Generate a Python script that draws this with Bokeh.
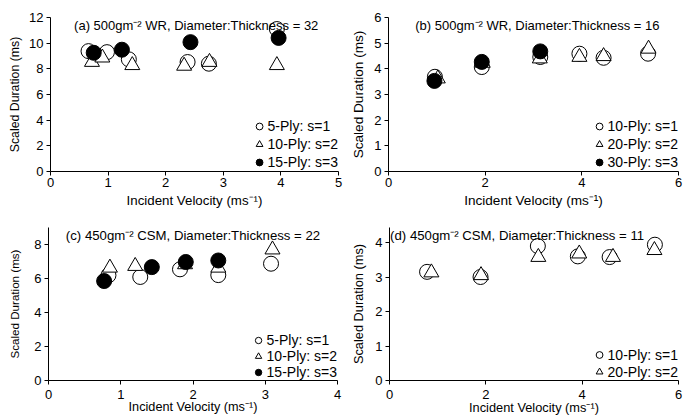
from bokeh.plotting import figure
from bokeh.layouts import column, row
from bokeh.models import Label, Legend, LegendItem, FixedTicker, Range1d
from bokeh.embed import file_html
from bokeh.resources import INLINE

# ---- data ----
# (a) 500gm-2 WR, D:T = 32
a_s1_x = [0.66, 0.98, 1.36, 2.38, 2.75, 3.93]
a_s1_y = [9.38, 9.30, 8.74, 8.53, 8.40, 11.10]
a_s2_x = [0.72, 0.90, 1.42, 2.32, 2.76, 3.93]
a_s2_y = [8.53, 8.87, 8.28, 8.23, 8.53, 8.28]
a_s3_x = [0.75, 1.24, 2.43, 3.96]
a_s3_y = [9.25, 9.49, 10.08, 10.41]
# (b) 500gm-2 WR, D:T = 16
b_s1_x = [0.96, 1.93, 3.14, 3.95, 4.45, 5.37]
b_s1_y = [3.69, 4.07, 4.46, 4.59, 4.43, 4.59]
b_s2_x = [1.02, 1.95, 3.13, 3.95, 4.45, 5.38]
b_s2_y = [3.62, 4.23, 4.40, 4.46, 4.49, 4.78]
b_s3_x = [0.95, 1.93, 3.14]
b_s3_y = [3.53, 4.27, 4.68]
# (c) 450gm-2 CSM, D:T = 22
c_s1_x = [0.83, 1.27, 1.82, 2.35, 3.08]
c_s1_y = [6.19, 6.09, 6.54, 6.20, 6.87]
c_s2_x = [0.85, 1.20, 1.89, 2.35, 3.10]
c_s2_y = [6.63, 6.73, 6.83, 6.63, 7.70]
c_s3_x = [0.77, 1.43, 1.90, 2.35]
c_s3_y = [5.85, 6.67, 6.97, 7.06]
# (d) 450gm-2 CSM, D:T = 11
d_s1_x = [0.78, 1.89, 3.08, 3.91, 4.57, 5.51]
d_s1_y = [3.16, 3.01, 3.91, 3.61, 3.59, 3.95]
d_s2_x = [0.87, 1.90, 3.09, 3.94, 4.64, 5.50]
d_s2_y = [3.14, 3.06, 3.59, 3.69, 3.59, 3.79]

titles = ["(a) 500gm\u207b\u00b2 WR, Diameter:Thickness = 32",
          "(b) 500gm\u207b\u00b2 WR, Diameter:Thickness = 16",
          "(c) 450gm\u207b\u00b2 CSM, Diameter:Thickness = 22",
          "(d) 450gm\u207b\u00b2 CSM, Diameter:Thickness = 11"]
legend_a = ["5-Ply: s=1", "10-Ply: s=2", "15-Ply: s=3"]
legend_b = ["10-Ply: s=1", "20-Ply: s=2", "30-Ply: s=3"]
legend_c = ["5-Ply: s=1", "10-Ply: s=2", "15-Ply: s=3"]
legend_d = ["10-Ply: s=1", "20-Ply: s=2"]

FONT = "Liberation Sans"
XLABEL = "Incident Velocity (ms\u207b\u00b9)"
YLABEL = "Scaled Duration (ms)"


def make_panel(series, labels, title, title_x, title_fs, xr, yr, xticks,
               yticks, bl, br, bt, bb, xlab_fs, xlab_standoff,
               xtick_standoff, ylab_fs, ylab_standoff, glyph_h):
    p = figure(width=348, height=210, min_border_left=bl,
               min_border_right=br, min_border_top=bt, min_border_bottom=bb,
               x_range=Range1d(*xr), y_range=Range1d(*yr),
               output_backend="svg", toolbar_location=None,
               x_axis_label=XLABEL, y_axis_label=YLABEL)
    p.outline_line_color = None
    p.xgrid.visible = False
    p.ygrid.visible = False
    p.background_fill_color = "white"
    p.border_fill_color = "white"
    p.xaxis.ticker = FixedTicker(ticks=xticks)
    p.yaxis.ticker = FixedTicker(ticks=yticks)
    for ax in (p.xaxis[0], p.yaxis[0]):
        ax.axis_line_color = "black"
        ax.axis_line_width = 1
        ax.major_tick_line_color = "black"
        ax.major_tick_out = 4
        ax.major_tick_in = 0
        ax.minor_tick_line_color = None
        ax.major_label_text_font = FONT
        ax.major_label_text_font_size = "13px"
        ax.major_label_text_color = "black"
        ax.axis_label_text_font = FONT
        ax.axis_label_text_font_style = "normal"
        ax.axis_label_text_color = "black"
    p.xaxis[0].axis_label_text_font_size = xlab_fs
    p.yaxis[0].axis_label_text_font_size = ylab_fs
    p.yaxis[0].major_label_standoff = 3
    p.yaxis[0].axis_label_standoff = ylab_standoff
    p.xaxis[0].major_label_standoff = xtick_standoff
    p.xaxis[0].axis_label_standoff = xlab_standoff

    styles = [dict(marker="circle", fill_color="white"),
              dict(marker="triangle", fill_color="white"),
              dict(marker="circle", fill_color="black")]
    items = []
    for (xs, ys), lab, st in zip(series, labels, styles):
        r = p.scatter(xs, ys, size=15, line_color="black", line_width=1,
                      marker=st["marker"], fill_color=st["fill_color"])
        items.append(LegendItem(label=lab, renderers=[r]))
    leg = Legend(items=items, location="bottom_right",
                 border_line_color=None, background_fill_alpha=0,
                 label_text_font=FONT, label_text_font_size="14px",
                 label_text_color="black",
                 glyph_width=17, glyph_height=glyph_h, label_height=glyph_h,
                 label_standoff=0, spacing=0, padding=2, margin=0)
    p.add_layout(leg)
    p.add_layout(Label(x=title_x, y=yr[1], text=title, text_align="center",
                       text_baseline="top", text_font=FONT,
                       text_font_size=title_fs, text_color="black"))
    return p


pa = make_panel([(a_s1_x, a_s1_y), (a_s2_x, a_s2_y), (a_s3_x, a_s3_y)],
                legend_a, titles[0], 2.53, "13px", (0, 5), (0, 12),
                [0, 1, 2, 3, 4, 5], [0, 2, 4, 6, 8, 10, 12],
                50, 10, 17, 38, "13.3px", 3, 2, "12.3px", 4, 18)
pb = make_panel([(b_s1_x, b_s1_y), (b_s2_x, b_s2_y), (b_s3_x, b_s3_y)],
                legend_b, titles[1], 3.08, "13px", (0, 6), (0, 6),
                [0, 2, 4, 6], [0, 1, 2, 3, 4, 5, 6],
                35, 18, 17, 38, "13.6px", 3, 2, "13.6px", 5, 18)
pc = make_panel([(c_s1_x, c_s1_y), (c_s2_x, c_s2_y), (c_s3_x, c_s3_y)],
                legend_c, titles[2], 2.0, "13.2px", (0, 4), (0, 9),
                [0, 1, 2, 3, 4], [0, 2, 4, 6, 8],
                48, 11, 16, 40, "12.7px", -2, 5, "11.6px", 10, 16)
pd_ = make_panel([(d_s1_x, d_s1_y), (d_s2_x, d_s2_y)],
                 legend_d, titles[3], 2.65, "13.2px", (0, 6), (0, 4.45),
                 [0, 2, 4, 6], [0, 1, 2, 3, 4],
                 36, 18, 17, 40, "12.8px", -2, 5, "12.8px", 6, 17)

layout = column(row(pa, pb), row(pc, pd_))
open("out.html", "w").write(file_html(layout, INLINE))
